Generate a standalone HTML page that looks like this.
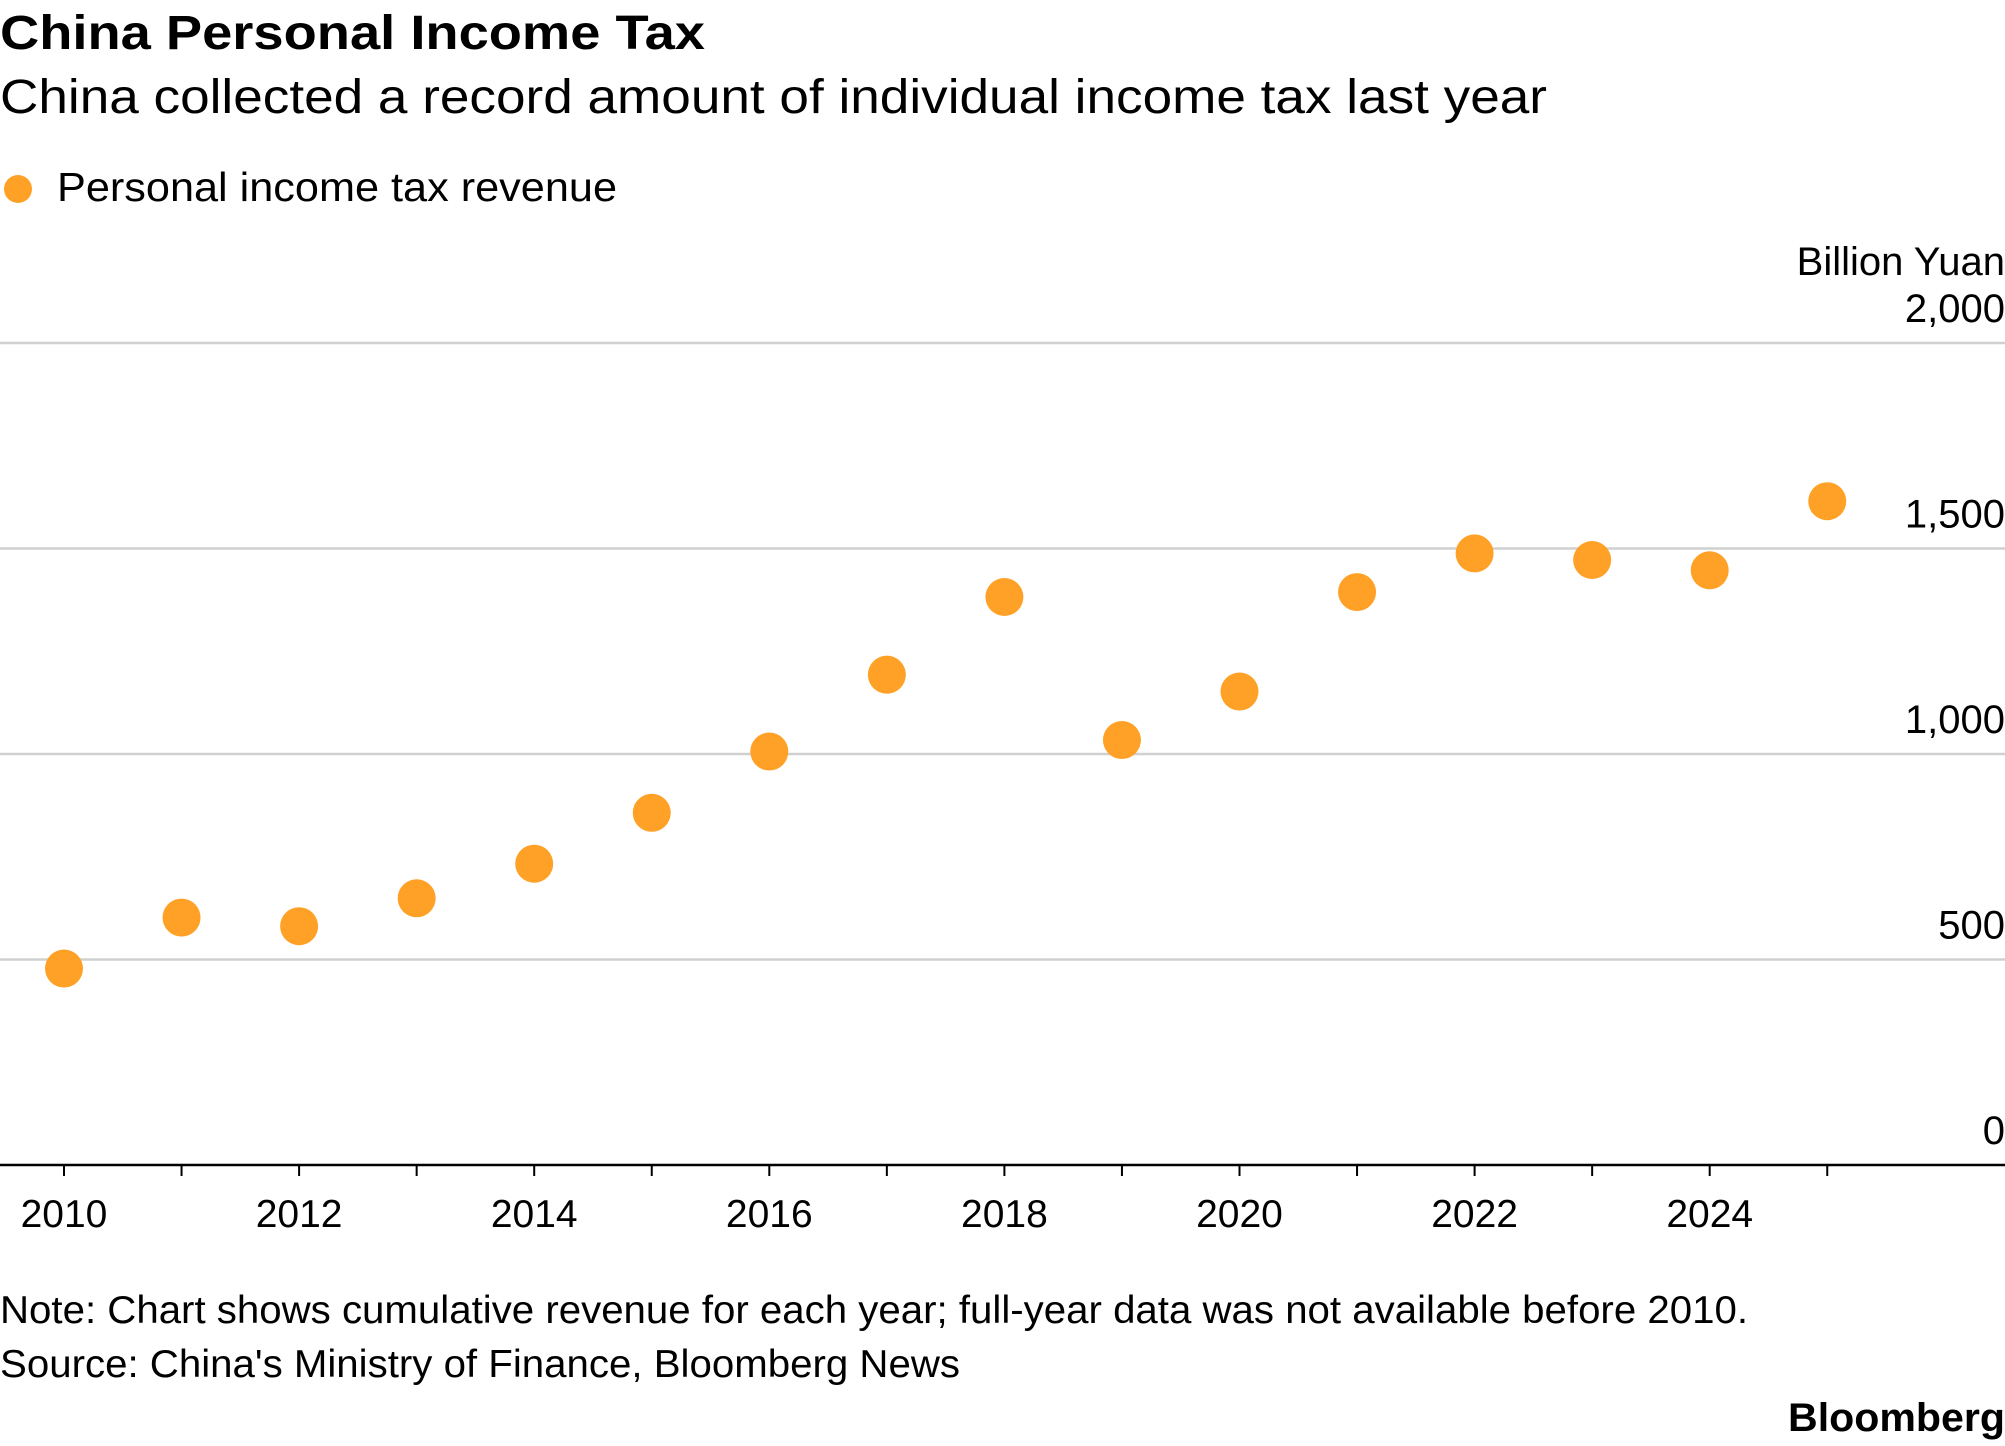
<!DOCTYPE html>
<html><head><meta charset="utf-8"><style>
html,body{margin:0;padding:0;background:#fff;}
svg{display:block;font-family:"Liberation Sans",sans-serif;}
</style></head><body>
<svg id="chart" width="2005" height="1446" viewBox="0 0 2005 1446">
<text x="0" y="49" font-size="48" font-weight="bold" fill="#000" textLength="705" lengthAdjust="spacingAndGlyphs">China Personal Income Tax</text>
<text x="0" y="113" font-size="48" fill="#000" textLength="1547" lengthAdjust="spacingAndGlyphs">China collected a record amount of individual income tax last year</text>
<circle cx="18" cy="189" r="14" fill="#ffa126"/>
<text x="57" y="201" font-size="41" fill="#000" textLength="560" lengthAdjust="spacingAndGlyphs">Personal income tax revenue</text>
<text x="2005" y="275" font-size="40" text-anchor="end" fill="#000">Billion Yuan</text>
<g id="grid"></g><g id="xaxis"></g><g id="dots"></g>
<text x="0" y="1323" font-size="39" fill="#000" textLength="1748" lengthAdjust="spacingAndGlyphs">Note: Chart shows cumulative revenue for each year; full-year data was not available before 2010.</text>
<text x="0" y="1377" font-size="39" fill="#000" textLength="960" lengthAdjust="spacingAndGlyphs">Source: China's Ministry of Finance, Bloomberg News</text>
<text x="2005" y="1431" font-size="40" font-weight="bold" text-anchor="end" fill="#000" textLength="217" lengthAdjust="spacingAndGlyphs">Bloomberg</text>
</svg>
<script>
const years=[2010,2011,2012,2013,2014,2015,2016,2017,2018,2019,2020,2021,2022,2023,2024,2025];
const revenue=[478,602,581,649,733,857,1006,1193,1382,1034,1152,1394,1488,1472,1447,1615];
const yTicks=[0,500,1000,1500,2000];
const yTickLabels=["0","500","1,000","1,500","2,000"];
const xLabelYears=[2010,2012,2014,2016,2018,2020,2022,2024];
const NS="http://www.w3.org/2000/svg";
function xs(y){return 64+(y-2010)*117.55;}
function ys(v){return 1165-v*(1165-343)/2000;}
function mk(tag,attrs,parent){const e=document.createElementNS(NS,tag);for(const k in attrs)e.setAttribute(k,attrs[k]);parent.appendChild(e);return e;}
const grid=document.getElementById('grid');
yTicks.forEach((t,i)=>{
 if(t>0){const l=mk('line',{x1:0,x2:2005,y1:ys(t),y2:ys(t),stroke:'#d0d0d0','stroke-width':2.5},grid);
 
 }
 const tx=mk('text',{x:2005,y:ys(t)-21,'font-size':40,'text-anchor':'end',fill:'#000'},grid);
 tx.textContent=yTickLabels[i];
 
 
});
const xa=document.getElementById('xaxis');
const ax=mk('line',{x1:0,x2:2005,y1:1165,y2:1165,stroke:'#000','stroke-width':2.5},xa);


years.forEach(y=>{
 const t=mk('line',{x1:xs(y),x2:xs(y),y1:1165,y2:1176,stroke:'#000','stroke-width':2},xa);
 
 
});
xLabelYears.forEach(y=>{
 const t=mk('text',{x:xs(y),y:1227,'font-size':39,'text-anchor':'middle',fill:'#000'},xa);
 t.textContent=y;
 
 
});
const dots=document.getElementById('dots');
years.forEach((y,i)=>{
 const c=mk('circle',{cx:xs(y),cy:ys(revenue[i]),r:19,fill:'#ffa126'},dots);
 
 
});
</script>
</body></html>
